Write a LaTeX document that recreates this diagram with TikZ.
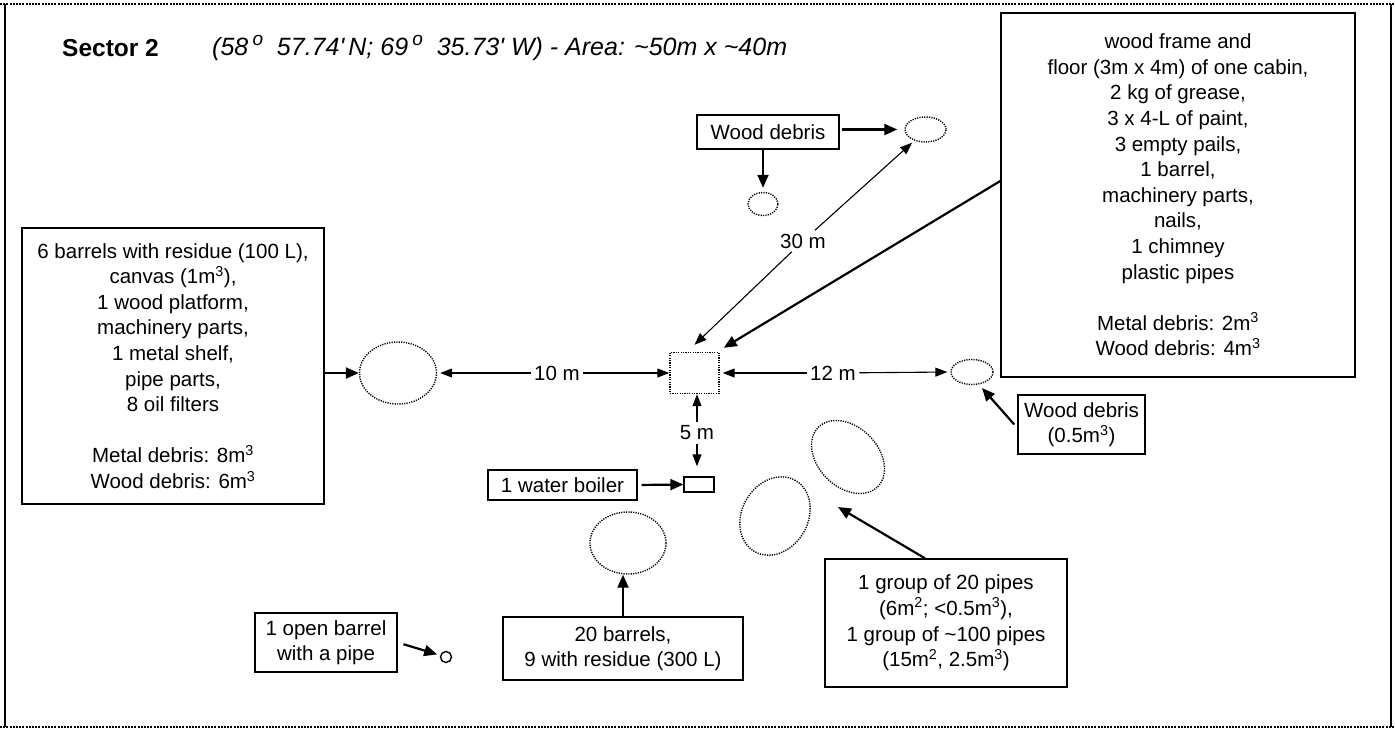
\documentclass[tikz,border=0pt]{standalone}
\usepackage{fontspec}
\setmainfont{Liberation Sans}
\usetikzlibrary{arrows.meta,shapes.geometric}
\begin{document}
\begin{tikzpicture}[x=1pt,y=-1pt,
  txt/.style={font=\fontsize{20.5}{25.6}\selectfont, align=center},
  box/.style={txt, draw, line width=1.4pt, inner sep=0pt},
  dotell/.style={ellipse, draw, line width=1.4pt, dash pattern=on 1.2pt off 1.2pt, inner sep=0pt},
  dotbox/.style={rectangle, draw, line width=1.4pt, dash pattern=on 1.2pt off 1.2pt, inner sep=0pt},
  bigarrow/.style={line width=2.2pt, -{Triangle[length=13pt,width=11pt]}},
  smallarrow/.style={line width=1.1pt, -{Triangle[length=12pt,width=9pt]}},
  framedot/.style={line width=2.8pt, dash pattern=on 2pt off 1.2pt},
  frameline/.style={line width=1.8pt},
]
\useasboundingbox (0,0) rectangle (1395,730);
% frame
\draw[framedot] (0,4) -- (1395,4);
\draw[framedot] (0,727) -- (1395,727);
\draw[frameline] (5,4) -- (5,727);
\draw[frameline] (1391,4) -- (1391,727);

% title
\node[anchor=west, inner sep=0, font=\fontsize{24.5}{28}\selectfont\bfseries] (title) at (62,48) {Sector 2};
\node[anchor=west, inner sep=0, font=\fontsize{25}{28}\selectfont\itshape] (coords) at (212,48)
  {(58\,{\fontsize{19}{20}\selectfont\raisebox{0.55em}{o}}\ \ 57.74\textquotesingle\,N; 69\,{\fontsize{19}{20}\selectfont\raisebox{0.55em}{o}}\ \ 35.73\textquotesingle\ W) - Area: \textasciitilde50m x \textasciitilde40m};

% boxes
\node[box, minimum width=302pt, minimum height=276pt] (LB) at (173,366)
  {6 barrels with residue (100 L),\\ canvas (1m\textsuperscript{3}),\\ 1 wood platform,\\ machinery parts,\\ 1 metal shelf,\\ pipe parts,\\ 8 oil filters\\[25.6pt] Metal debris: 8m\textsuperscript{3}\\ Wood debris: 6m\textsuperscript{3}};
\node[box, minimum width=354pt, minimum height=364pt] (TR) at (1178,195)
  {wood frame and\\ floor (3m x 4m) of one cabin,\\ 2 kg of grease,\\ 3 x 4-L of paint,\\ 3 empty pails,\\ 1 barrel,\\ machinery parts,\\ nails,\\ 1 chimney\\ plastic pipes\\[25.6pt] Metal debris: 2m\textsuperscript{3}\\ Wood debris: 4m\textsuperscript{3}};
\node[box, minimum width=142pt, minimum height=34pt] (WD1) at (768,132) {Wood debris};
\node[box, minimum width=127pt, minimum height=59pt] (WD2) at (1081.5,424.5) {Wood debris\\ (0.5m\textsuperscript{3})};
\node[box, minimum width=149pt, minimum height=30pt] (WB) at (562.5,485) {1 water boiler};
\node[box, minimum width=240pt, minimum height=63pt] (B20) at (623,648.5) {20 barrels,\\ 9 with residue (300 L)};
\node[box, minimum width=142pt, minimum height=59pt] (OB) at (326,642.5) {1 open barrel\\ with a pipe};
\node[box, minimum width=242pt, minimum height=128pt] (PB) at (946,623)
  {1 group of 20 pipes\\ (6m\textsuperscript{2}; <0.5m\textsuperscript{3}),\\ 1 group of \textasciitilde100 pipes\\ (15m\textsuperscript{2}, 2.5m\textsuperscript{3})};

% sites
\node[dotell, minimum width=77pt, minimum height=62pt] (E1) at (398,373) {};
\node[dotbox, minimum width=49pt, minimum height=41pt] (SQ) at (694.5,373) {};
\node[dotell, minimum width=42pt, minimum height=25pt] (E2) at (972,372) {};
\node[dotell, minimum width=41pt, minimum height=25pt] (E3) at (925.5,129.5) {};
\node[dotell, minimum width=30pt, minimum height=23pt] (E4) at (763,204) {};
\node[draw, line width=1.4pt, minimum width=30pt, minimum height=15pt, inner sep=0] (BO) at (699,484.5) {};
\node[dotell, minimum width=76pt, minimum height=62pt] (E5) at (628,543) {};
\node[circle, draw, line width=1.4pt, minimum size=11pt, inner sep=0] (OC) at (446,657) {};
\node[dotell, minimum width=84pt, minimum height=60pt, rotate=-45] (P1) at (848,457) {};
\node[dotell, minimum width=82pt, minimum height=66pt, rotate=60] (P2) at (775,516) {};

% distance labels
\node[txt] (L10) at (557,373) {10 m};
\node[txt] (L12) at (833,373) {12 m};
\node[txt] (L30) at (803,241) {30 m};
\node[txt] (L5) at (697,433) {5 m};

% connectors
\draw[bigarrow] (LB.east |- E1.west) -- (E1.west);
\draw[smallarrow, shorten >=3pt] (L10) -- (E1.east);
\draw[smallarrow] (L10) -- (SQ.west);
\draw[smallarrow, shorten >=3pt] (L12) -- (SQ.east);
\draw[smallarrow, shorten >=3pt] (L12) -- (E2.west);
\draw[smallarrow] (L30) -- ([yshift=7pt]SQ.north);
\draw[smallarrow, shorten >=3pt] (L30) -- (E3.225);
\draw[bigarrow] ([yshift=14pt]TR.west) -- ([shift={(4pt,4pt)}]SQ.north east);
\draw[bigarrow, shorten <=2pt, shorten >=7pt] (WD1.east |- E3.west) -- (E3.west);
\draw[bigarrow, shorten >=4pt] (E4.north |- WD1.south) -- (E4.north);
\draw[smallarrow] (L5.north) -- (L5.north |- SQ.south);
\draw[smallarrow, shorten >=10pt] (L5.south) -- (L5.south |- BO.north);
\draw[bigarrow, shorten <=4pt] (WB.east) -- (BO.west);
\draw[bigarrow] (B20.north) -- (B20.north |- E5.south);
\draw[bigarrow, shorten <=6pt, shorten >=3pt] (OB.east) -- (OC);
\draw[bigarrow] ([xshift=-21pt]PB.north) -- ([shift={(-10pt,-50pt)}]P1.center);
\draw[bigarrow] ([xshift=-3pt]WD2.west) -- ([shift={(10pt,-16pt)}]E2.center);
\end{tikzpicture}
\end{document}
